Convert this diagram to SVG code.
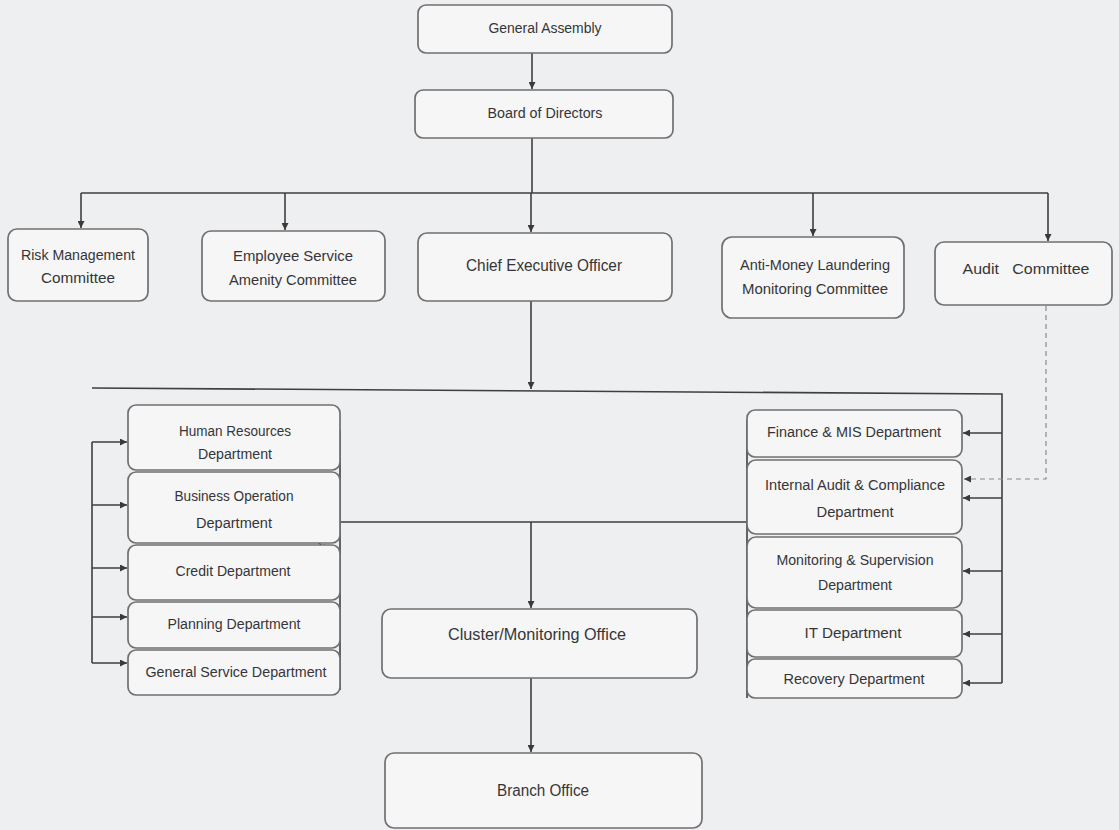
<svg xmlns="http://www.w3.org/2000/svg" width="1119" height="830" viewBox="0 0 1119 830">
<defs>
<marker id="ah" viewBox="0 0 10 10" refX="10" refY="5" markerWidth="7" markerHeight="7" orient="auto" markerUnits="userSpaceOnUse">
<path d="M0,0 L10,5 L0,10 z" fill="#3a3a3a"/>
</marker>
<style>
.box{fill:#f6f6f7;stroke:#707072;stroke-width:1.7}
.t{font-family:"Liberation Sans",Arial,sans-serif;font-size:14px;fill:#353537;text-anchor:middle;dominant-baseline:middle}
.big{font-size:16px}
.ln{stroke:#3f3f41;stroke-width:1.6;fill:none}
.ar{stroke:#3f3f41;stroke-width:1.6;fill:none;marker-end:url(#ah)}
.dash{stroke:#8a8a8c;stroke-width:1.2;fill:none;stroke-dasharray:5 4;marker-end:url(#ah)}
</style>
</defs>
<rect width="1119" height="830" fill="#eeeff1"/>

<g id="connectors">
<line class="ar" x1="532" y1="53" x2="532" y2="89"/>
<line class="ln" x1="532" y1="138" x2="532" y2="193"/>
<line class="ln" x1="81" y1="193" x2="1048" y2="193"/>
<line class="ar" x1="81" y1="193" x2="81" y2="228"/>
<line class="ar" x1="285" y1="193" x2="285" y2="230"/>
<line class="ar" x1="531" y1="193" x2="531" y2="232"/>
<line class="ar" x1="813" y1="193" x2="813" y2="236"/>
<line class="ar" x1="1048" y1="193" x2="1048" y2="241"/>
<line class="ar" x1="531" y1="301" x2="531" y2="389"/>
<polyline class="ln" points="92,388 1002,394 1002,683"/>
<line class="ar" x1="1002" y1="433" x2="963" y2="433"/>
<line class="ar" x1="1002" y1="498" x2="963" y2="498"/>
<line class="ar" x1="1002" y1="571" x2="963" y2="571"/>
<line class="ar" x1="1002" y1="634" x2="963" y2="634"/>
<line class="ar" x1="1002" y1="683" x2="963" y2="683"/>
<polyline class="dash" points="1046,306 1046,479 964,479"/>
<line class="ln" x1="92" y1="442" x2="92" y2="663"/>
<line class="ar" x1="92" y1="442" x2="127" y2="442"/>
<line class="ar" x1="92" y1="505" x2="127" y2="505"/>
<line class="ar" x1="92" y1="568" x2="127" y2="568"/>
<line class="ar" x1="92" y1="617" x2="127" y2="617"/>
<line class="ar" x1="92" y1="663" x2="127" y2="663"/>
<line class="ln" x1="340" y1="430" x2="340" y2="690"/>
<line class="ln" x1="747" y1="420" x2="747" y2="698"/>
<line class="ln" x1="340" y1="522" x2="747" y2="522"/>
<line class="ar" x1="531" y1="522" x2="531" y2="608"/>
<line class="ar" x1="531" y1="678" x2="531" y2="752"/>
<line class="ar" x1="318" y1="542" x2="327" y2="551"/>
</g>

<g id="general-assembly"><rect class="box" x="418" y="5" width="254" height="48" rx="8"/><text class="t" x="545" y="29" textLength="113" lengthAdjust="spacingAndGlyphs">General Assembly</text></g>
<g id="board-of-directors"><rect class="box" x="415" y="90" width="258" height="48" rx="8"/><text class="t" x="545" y="114" textLength="115" lengthAdjust="spacingAndGlyphs">Board of Directors</text></g>

<g id="risk-management"><rect class="box" x="8" y="229" width="140" height="72" rx="9"/><text class="t" x="78" y="256" textLength="114" lengthAdjust="spacingAndGlyphs">Risk Management</text><text class="t" x="78" y="279" textLength="74" lengthAdjust="spacingAndGlyphs">Committee</text></g>
<g id="employee-service"><rect class="box" x="202" y="231" width="183" height="70" rx="9"/><text class="t" x="293" y="257" textLength="120" lengthAdjust="spacingAndGlyphs">Employee Service</text><text class="t" x="293" y="281" textLength="128" lengthAdjust="spacingAndGlyphs">Amenity Committee</text></g>
<g id="ceo"><rect class="box" x="418" y="233" width="254" height="68" rx="9"/><text class="t big" x="544" y="267" textLength="156" lengthAdjust="spacingAndGlyphs">Chief Executive Officer</text></g>
<g id="aml"><rect class="box" x="722" y="237" width="182" height="81" rx="10"/><text class="t" x="815" y="266" textLength="150" lengthAdjust="spacingAndGlyphs">Anti-Money Laundering</text><text class="t" x="815" y="290" textLength="146" lengthAdjust="spacingAndGlyphs">Monitoring Committee</text></g>
<g id="audit-committee"><rect class="box" x="935" y="242" width="177" height="63" rx="9"/><text class="t" x="1026" y="270" textLength="127" lengthAdjust="spacingAndGlyphs" xml:space="preserve">Audit   Committee</text></g>

<g id="hr"><rect class="box" x="128" y="405" width="212" height="65" rx="8"/><text class="t" x="235" y="432" textLength="112" lengthAdjust="spacingAndGlyphs">Human Resources</text><text class="t" x="235" y="455" textLength="74" lengthAdjust="spacingAndGlyphs">Department</text></g>
<g id="business-operation"><rect class="box" x="128" y="472" width="212" height="71" rx="8"/><text class="t" x="234" y="497" textLength="119" lengthAdjust="spacingAndGlyphs">Business Operation</text><text class="t" x="234" y="524" textLength="76" lengthAdjust="spacingAndGlyphs">Department</text></g>
<g id="credit"><rect class="box" x="128" y="545" width="212" height="55" rx="8"/><text class="t" x="233" y="572" textLength="115" lengthAdjust="spacingAndGlyphs">Credit Department</text></g>
<g id="planning"><rect class="box" x="128" y="602" width="212" height="46" rx="8"/><text class="t" x="234" y="625" textLength="133" lengthAdjust="spacingAndGlyphs">Planning Department</text></g>
<g id="general-service"><rect class="box" x="128" y="650" width="212" height="45" rx="8"/><text class="t" x="236" y="673" textLength="181" lengthAdjust="spacingAndGlyphs">General Service Department</text></g>

<g id="finance"><rect class="box" x="747" y="410" width="215" height="47" rx="8"/><text class="t" x="854" y="433" textLength="174" lengthAdjust="spacingAndGlyphs">Finance &amp; MIS Department</text></g>
<g id="internal-audit"><rect class="box" x="747" y="460" width="215" height="74" rx="9"/><text class="t" x="855" y="486" textLength="180" lengthAdjust="spacingAndGlyphs">Internal Audit &amp; Compliance</text><text class="t" x="855" y="513" textLength="77" lengthAdjust="spacingAndGlyphs">Department</text></g>
<g id="monitoring-supervision"><rect class="box" x="747" y="537" width="215" height="71" rx="9"/><text class="t" x="855" y="561" textLength="157" lengthAdjust="spacingAndGlyphs">Monitoring &amp; Supervision</text><text class="t" x="855" y="586" textLength="74" lengthAdjust="spacingAndGlyphs">Department</text></g>
<g id="it"><rect class="box" x="747" y="610" width="215" height="47" rx="8"/><text class="t" x="853" y="634" textLength="97" lengthAdjust="spacingAndGlyphs">IT Department</text></g>
<g id="recovery"><rect class="box" x="747" y="659" width="215" height="39" rx="8"/><text class="t" x="854" y="680" textLength="141" lengthAdjust="spacingAndGlyphs">Recovery Department</text></g>

<g id="cluster-office"><rect class="box" x="382" y="609" width="315" height="69" rx="9"/><text class="t big" x="537" y="636" textLength="178" lengthAdjust="spacingAndGlyphs">Cluster/Monitoring Office</text></g>
<g id="branch-office"><rect class="box" x="385" y="753" width="317" height="75" rx="9"/><text class="t big" x="543" y="792" textLength="92" lengthAdjust="spacingAndGlyphs">Branch Office</text></g>
</svg>
